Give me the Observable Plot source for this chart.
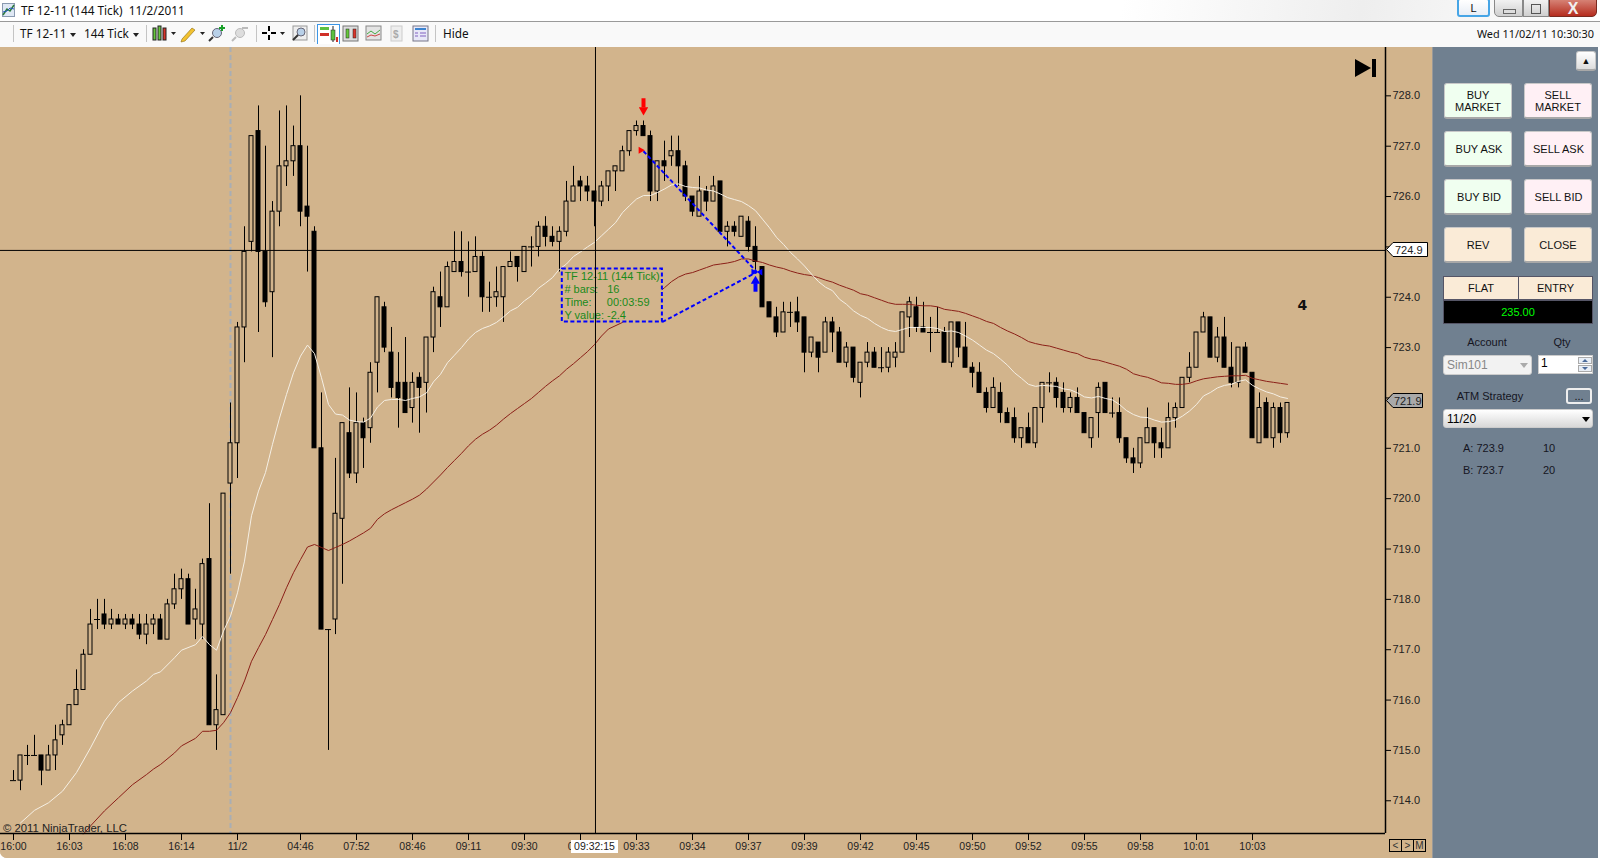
<!DOCTYPE html>
<html><head><meta charset="utf-8">
<script src="https://cdn.jsdelivr.net/npm/d3@7"></script>
<script src="https://cdn.jsdelivr.net/npm/@observablehq/plot@0.6"></script>
<style>
html,body{margin:0;padding:0;background:#fff;width:1600px;height:860px;overflow:hidden;font-family:"Liberation Sans",Arial,sans-serif;color:#111}
.a{position:absolute;white-space:pre}
.btn{position:absolute;box-sizing:border-box;border:1px solid #c8c8c8;border-bottom:2px solid #a8a8a8;border-radius:3px;font-size:11px;line-height:12px;text-align:center;display:flex;align-items:center;justify-content:center;color:#111}
.lbl{position:absolute;font-size:11px;color:#15151f;white-space:pre;transform:translate(-50%,-50%)}
.sep{position:absolute;top:25px;height:17px;width:1px;background:#c4c4c4}
.tb{position:absolute;font:11.8px "Noto Sans",sans-serif;color:#111;white-space:pre}
#chart{position:absolute;left:0;top:47px;width:1433px;height:811px;background:#d2b48c;border-bottom-left-radius:7px;overflow:hidden}
#chart svg{display:block}
</style></head><body>
<div class="a" style="left:0;top:0;width:1600px;height:21px;background:linear-gradient(100deg,#fff 70%,#eee 85%,#fff)"></div>
<div class="a" style="left:0;top:21px;width:1600px;height:26px;background:#f9f9f9;border-top:1px solid #9a9a9a;box-sizing:border-box"></div>
<svg class="a" style="left:2px;top:3px" width="13" height="14"><rect x=".5" y=".5" width="12" height="13" fill="#dfe8f4" stroke="#8a9ab0"/><path d="M1 12 5 6 8 8 12 2" fill="none" stroke="#2c7a3c" stroke-width="1.5"/><path d="M1 9 5 8 8 5 12 6" fill="none" stroke="#2358b8"/></svg>
<div class="tb" style="left:21px;top:2px">TF 12-11 (144 Tick)  11/2/2011</div>
<div class="btn" style="left:1457px;top:-2px;width:33px;height:19px;background:linear-gradient(#fff,#e8eef6);border:2px solid #46a5e6">L</div>
<div class="a" style="left:1494px;top:-2px;width:29px;height:19px;box-sizing:border-box;background:linear-gradient(#f4f4f4,#cfcfcf);border:1px solid #888;border-radius:0 0 0 5px"></div>
<div class="a" style="left:1503px;top:9px;width:11px;height:3px;border:1px solid #666;background:#ddd"></div>
<div class="a" style="left:1523px;top:-2px;width:26px;height:19px;box-sizing:border-box;background:linear-gradient(#f4f4f4,#cfcfcf);border:1px solid #888"></div>
<div class="a" style="left:1531px;top:4px;width:8px;height:8px;border:1px solid #555"></div>
<div class="a" style="left:1549px;top:-2px;width:48px;height:19px;box-sizing:border-box;background:linear-gradient(#d8877a,#b52c1e);border:1px solid #7a2a20;border-radius:0 0 5px 0;color:#f0f0f0;font:bold 16px 'Liberation Sans';text-align:center;line-height:19px">X</div>

<div class="sep" style="left:13px"></div><div class="sep" style="left:146px"></div><div class="sep" style="left:256px"></div><div class="sep" style="left:314px"></div><div class="sep" style="left:435px"></div>
<div class="tb" style="left:20px;top:25px">TF 12-11</div><div class="a" style="left:70px;top:33px;border:3px solid transparent;border-top:4px solid #222"></div>
<div class="tb" style="left:84px;top:25px">144 Tick</div><div class="a" style="left:133px;top:33px;border:3px solid transparent;border-top:4px solid #222"></div>
<div class="tb" style="left:443px;top:25px">Hide</div>
<svg class="a" style="left:150px;top:24px" width="290" height="20">
<g stroke="#222"><rect x="3" y="4" width="3" height="12" fill="#66c83c"/><rect x="8" y="2" width="3" height="14" fill="#66c83c"/><rect x="13" y="4" width="3" height="12" fill="#d8352a"/></g><path d="M21 8h5l-2.5 3z" fill="#222"/>
<path d="M32 15 42 4l3 2-10 11-4 1z" fill="#f2c230" stroke="#8a6a10" stroke-width=".6"/><path d="M50 8h5l-2.5 3z" fill="#222"/>
<circle cx="67" cy="9" r="4.5" fill="#b8d0e8" stroke="#667"/><path d="M63 13l-4 4" stroke="#333" stroke-width="2"/><path d="M72 1v6M69 4h6" stroke="#18a028" stroke-width="2"/>
<circle cx="90" cy="9" r="4.5" fill="#ddd" stroke="#bbb"/><path d="M86 13l-4 4" stroke="#bbb" stroke-width="2"/><path d="M92 4h6" stroke="#bbb" stroke-width="2"/>
<path d="M112 9h5M121 9h5M119 2v5M119 11v5" stroke="#000" stroke-width="2"/><path d="M130 8h5l-2.5 3z" fill="#222"/>
<rect x="143" y="2" width="14" height="14" fill="#eee" stroke="#999"/><circle cx="151" cy="8" r="4" fill="#b8d0e8" stroke="#667"/><path d="M148 11l-5 5" stroke="#333" stroke-width="2"/>
<rect x="167.500" y="1.500" width="22" height="21" fill="#fff" stroke="#3c96e6" transform="translate(0,-1)"/><rect x="170" y="3" width="9" height="3" fill="#5cc040"/><rect x="170" y="9" width="9" height="3" fill="#d03028"/><path d="M183 2v16" stroke="#222"/><rect x="181" y="6" width="4" height="10" fill="#5cc040" stroke="#222" stroke-width=".5"/><rect x="186" y="13" width="2" height="5" fill="#d03028"/>
<rect x="193" y="2" width="15" height="15" fill="#ddd" stroke="#777"/><rect x="196" y="5" width="3" height="9" fill="#66c83c" stroke="#222" stroke-width=".5"/><rect x="203" y="5" width="3" height="9" fill="#d8352a" stroke="#222" stroke-width=".5"/>
<rect x="216" y="2" width="15" height="14" fill="#e4e4e4" stroke="#888"/><path d="M217 10l4-3 4 3 5-4" stroke="#4a4" fill="none"/><path d="M217 13l4-2 4 1 5-2" stroke="#c44" fill="none"/>
<rect x="241" y="2" width="11" height="15" fill="#eee" stroke="#ccc"/><text x="243" y="14" font-size="10" fill="#aaa" font-weight="bold">$</text>
<rect x="263" y="2" width="15" height="15" fill="#e8e8f8" stroke="#778"/><rect x="265" y="4" width="11" height="2" fill="#3c84d0"/><path d="M265 9h3M265 12h3M270 9h6M270 12h6" stroke="#8060c0"/>
</svg>
<div class="tb" style="right:6px;top:26px;left:auto;font-size:10.9px">Wed 11/02/11 10:30:30</div>

<div id="chart"></div>

<svg class="a" style="left:1354px;top:58px" width="24" height="21"><path d="M1 1 17 10 1 19z" fill="#000"/><rect x="18" y="1" width="4" height="18" fill="#000"/></svg>

<svg class="a" style="left:1385px;top:242px" width="44" height="16"><path d="M1.500 7.500 8 .5H42.500V14.500H8z" fill="#fff" stroke="#000"/><text x="10" y="11.500" font-size="11" fill="#222" font-family="Liberation Sans">724.9</text></svg>
<svg class="a" style="left:1385px;top:393px" width="40" height="16"><path d="M1.500 7.500 8 .5H37.500V14.500H8z" fill="#a9a9a9" stroke="#000"/><text x="9" y="11.500" font-size="11" fill="#222" font-family="Liberation Sans">721.9</text></svg>
<div class="a" style="left:571px;top:840px;width:47px;height:13px;background:#fff;font-size:10.5px;line-height:13px;text-align:center;color:#222">09:32:15</div>
<svg class="a" style="left:1389px;top:839px" width="38" height="14"><g fill="none" stroke="#000"><rect x=".5" y=".5" width="12" height="12"/><rect x="12.500" y=".5" width="12" height="12"/><rect x="24.500" y=".5" width="12" height="12"/></g><g font-size="10" fill="#333" font-family="Liberation Sans" text-anchor="middle"><text x="6.500" y="10">&lt;</text><text x="18.500" y="10">&gt;</text><text x="30.500" y="10">M</text></g></svg>

<div class="a" style="left:1432px;top:47px;width:166px;height:811px;background:#708090;border-left:1px solid #999;box-sizing:border-box"></div>
<div class="btn" style="left:1576px;top:51px;width:20px;height:20px;background:linear-gradient(#fff,#ddd);font-size:9px">▲</div>
<div class="btn" style="left:1444px;top:83px;width:68px;height:36px;background:#f0fff0">BUY<br>MARKET</div>
<div class="btn" style="left:1524px;top:83px;width:68px;height:36px;background:#fff0f5">SELL<br>MARKET</div>
<div class="btn" style="left:1444px;top:131px;width:68px;height:36px;background:#f0fff0;padding-left:2px">BUY ASK</div>
<div class="btn" style="left:1524px;top:131px;width:68px;height:36px;background:#fff0f5;padding-left:1px">SELL ASK</div>
<div class="btn" style="left:1444px;top:179px;width:68px;height:36px;background:#f0fff0;padding-left:2px">BUY BID</div>
<div class="btn" style="left:1524px;top:179px;width:68px;height:36px;background:#fff0f5;padding-left:1px">SELL BID</div>
<div class="btn" style="left:1444px;top:227px;width:68px;height:36px;background:#faebd7">REV</div>
<div class="btn" style="left:1524px;top:227px;width:68px;height:36px;background:#faebd7">CLOSE</div>
<div class="btn" style="left:1443px;top:276px;width:76px;height:24px;background:#faebd7;border:1px solid #556;border-radius:0">FLAT</div>
<div class="btn" style="left:1518px;top:276px;width:75px;height:24px;background:#faebd7;border:1px solid #556;border-radius:0">ENTRY</div>
<div class="btn" style="left:1443px;top:300px;width:150px;height:24px;background:#000;border:1px solid #556;border-radius:0;color:#00ff00">235.00</div>
<div class="lbl" style="left:1487px;top:342px">Account</div>
<div class="lbl" style="left:1562px;top:342px">Qty</div>
<div class="a" style="left:1443px;top:355px;width:89px;height:20px;box-sizing:border-box;background:#f2f2f2;border:1px solid #ccc;border-radius:3px;color:#888;font-size:12px;line-height:18px;padding-left:3px">Sim101</div>
<div class="a" style="left:1520px;top:363px;border:4px solid transparent;border-top:5px solid #aaa"></div>
<div class="a" style="left:1538px;top:355px;width:55px;height:19px;box-sizing:border-box;background:#fff;border:1px solid #ccc;font-size:12px;line-height:15px;padding-left:2px;color:#000">1</div>
<div class="a" style="left:1578px;top:357px;width:14px;height:7px;background:#e8eef6;border:1px solid #aaa;box-sizing:border-box"></div>
<div class="a" style="left:1578px;top:365px;width:14px;height:7px;background:#e8eef6;border:1px solid #aaa;box-sizing:border-box"></div>
<svg class="a" style="left:1578px;top:357px" width="14" height="15"><path d="M4 5 7 2 10 5z M4 10 7 13 10 10z" fill="#4a6a9a"/></svg>
<div class="lbl" style="left:1490px;top:396px">ATM Strategy</div>
<div class="btn" style="left:1566px;top:388px;width:26px;height:16px;background:#708090;border:2px solid #eee;align-items:flex-start">...</div>
<div class="a" style="left:1443px;top:409px;width:150px;height:19px;box-sizing:border-box;background:linear-gradient(#fff,#d8d8d8);border:1px solid #ccc;border-radius:3px;font-size:12px;line-height:18px;padding-left:3px;color:#000">11/20</div>
<div class="a" style="left:1582px;top:417px;border:4px solid transparent;border-top:5px solid #000"></div>
<div class="a" style="left:1463px;top:442px;font-size:11px;color:#15151f">A: 723.9</div><div class="a" style="left:1543px;top:442px;font-size:11px;color:#15151f">10</div>
<div class="a" style="left:1463px;top:464px;font-size:11px;color:#15151f">B: 723.7</div><div class="a" style="left:1543px;top:464px;font-size:11px;color:#15151f">20</div>

<script>
// Bar-by-bar prices (144-tick bars)
const opens=[714.4,714.4,714.9,714.9,714.9,714.6,714.9,715.3,715.5,715.9,716.2,716.9,717.6,717.7,717.5,717.6,717.5,717.6,717.5,717.3,717.5,717.6,717.2,717.9,718.2,718.4,717.6,717.5,718.8,715.5,715.7,720.3,721.1,723.4,725.1,727.3,724.9,724.1,725.7,726.6,726.7,727,725.8,725.3,721,717.4,717.6,719.6,721.3,720.5,721.5,721.4,722.7,723.8,722.9,722.3,722.3,721.8,722.4,722.3,723.2,724,723.8,724.5,724.7,724.5,724.5,724.8,724,724,724,724.6,724.8,724.5,725,725,725.4,725.2,725.1,725.3,725.9,726.3,726.2,726.1,725.9,726.2,726.5,726.5,726.9,727.3,727.4,727.2,726.1,726.7,726.8,726.9,726.6,726,725.6,726.1,725.9,726.3,725.3,725.4,725.2,725.5,725,724.6,723.9,723.6,723.3,723.7,723.7,723.6,722.9,723.1,722.9,723.5,723.3,722.7,723,722.3,722.7,722.9,722.6,722.6,722.8,722.9,723.6,723.8,723.4,723.3,723.3,723.3,722.7,723.5,723,722.6,722.5,722.1,721.8,722.1,721.7,721.6,721.2,721.4,721.1,721.8,722.3,722.3,722.1,721.8,722,721.7,721.2,721.7,722.3,721.7,721.7,721.2,720.8,720.7,721.1,721.4,721.1,721,721.6,721.8,722.4,722.6,723.3,723.6,722.8,723.2,722.6,722.3,723,722.5,721.1,721.9,721.2,721.8,721.3];
const closes=[714.4,714.9,714.9,714.9,714.6,714.9,715.2,715.5,715.9,716.2,716.9,717.5,717.6,717.5,717.6,717.5,717.6,717.5,717.3,717.5,717.6,717.2,717.9,718.2,718.4,717.5,717.8,718.7,715.5,715.8,720.1,721.1,723.4,724.9,727.2,724.9,723.9,725.7,726.6,726.7,727,725.7,725.6,721,717.4,717.4,719.7,721.5,720.5,721.5,721.2,722.5,724,723,722.2,722,721.7,722.3,722.2,723.2,724.1,723.8,724.6,724.7,724.5,724.5,724.8,724,724,724.1,724.6,724.7,724.6,725,725,725.4,725.2,725.1,725.3,725.9,726.2,726.2,726.1,725.9,726.2,726.5,726.6,726.9,727.3,727.4,727.2,726.1,726.7,726.6,726.9,726.6,726,725.7,726.1,725.9,726.2,725.3,725.4,725.3,725.6,725,724.7,723.8,723.6,723.3,723.7,723.7,723.5,722.9,723.2,722.8,723.5,723.3,722.7,723,722.4,722.7,722.9,722.6,722.6,722.9,722.9,723.7,723.9,723.4,723.3,723.3,723.3,722.7,723.5,723,722.6,722.5,722.1,721.8,722.2,721.7,721.5,721.2,721.4,721.1,721.8,722.3,722.3,722,721.8,722,721.7,721.3,721.6,722.2,721.7,721.7,721.2,720.8,720.7,721.2,721.4,721.1,721,721.6,721.8,722.4,722.6,723.3,723.6,722.8,723.2,722.6,722.3,723,722.5,721.2,721.8,721.2,721.8,721.3,721.9];
const highs=[714.6,714.9,715.1,715.3,714.9,715.1,715.5,715.6,715.9,716.6,717,717.8,718,718,717.8,717.7,717.7,717.7,717.7,717.7,717.7,717.7,718,718.5,718.6,718.5,718.2,718.8,719.9,716.5,720.1,721.9,723.5,725.4,727.2,727.8,727,725.9,727.7,727.8,727.4,728,727,725.4,722.1,717.4,720.8,721.5,722.2,722.1,721.6,722.7,724,723.9,723.4,722.9,723.2,722.5,722.5,723.2,724.2,724.5,724.7,725.3,725.3,725.1,725.2,724.9,724.3,724.6,724.6,724.9,724.8,725,725.2,725.5,725.6,725.4,725.4,726.3,726.6,726.4,726.4,726.1,726.3,726.5,726.6,727,727.3,727.5,727.5,727.3,726.7,727.1,727.2,727.2,726.7,726,726.4,726.2,726.4,726.3,725.5,725.5,725.6,725.6,725.4,724.6,723.9,723.8,723.9,723.9,724,723.6,723.2,723.1,723.6,723.6,723.4,723.1,723,722.7,723.1,723,723,723,723.1,723.7,724,724,723.9,723.6,723.8,723.4,723.5,723.5,723.5,722.7,722.7,722.2,722.4,722.3,721.8,721.8,721.4,721.7,721.8,722.3,722.5,722.4,722.3,722.1,722.2,721.7,721.6,722.3,722.3,722,722,721.2,721,721.2,721.8,721.4,721.4,721.9,721.9,722.4,722.9,723.3,723.7,723.6,723.4,723.6,723.1,723,723.1,722.5,722.1,722,721.9,721.9,721.9];
const lows=[714.4,714.2,714.7,714.9,714.3,714.6,714.6,715.1,715.5,715.9,716.2,716.9,717.4,717.4,717.4,717.5,717.4,717.4,717.2,717.1,717.3,717.2,717.2,717.8,718,717.5,717.2,717.2,715.5,715,715.7,718.5,720.4,722.7,724.9,723.3,723.8,722.8,725.4,726.2,726.4,725.4,724.5,721,717.4,715,717.3,718.3,720.4,720.3,720.6,721.1,722.1,722.9,722,721.4,721.7,721.5,721.3,721.7,722.9,723.4,723.8,724.5,724.4,724,724.5,723.7,723.7,723.8,723.5,724.6,724.3,724.5,724.6,724.8,725,725,724.5,725.2,725.9,725.9,725.9,725.4,725.8,725.9,726.1,726.5,726.8,727.2,727.2,725.9,725.9,726.3,726.6,726.2,725.9,725.6,725.6,725.7,725.9,725.3,725,725.2,725.2,724.9,724.5,723.8,723.6,723.2,723.3,723.4,723.3,722.5,722.8,722.5,722.9,722.9,722.7,722.6,722.3,722,722.6,722.6,722.5,722.5,722.6,722.9,723.2,723.3,723.3,722.9,723.3,722.7,722.6,722.8,722.6,722.2,722.1,721.7,721.8,721.5,721.5,721.1,721,721.1,721,721.5,722.1,721.8,721.7,721.7,721.7,721.3,721,721.2,721.7,721.6,721.1,720.7,720.5,720.6,721.1,720.8,720.8,721,721.4,721.8,722.3,722.6,723.3,722.8,722.7,722.6,722.2,722.2,722.5,721.2,721.1,721.2,721,721.1,721.2];

// Fast average (pale line): bar numbers and values
const fastBars=[1,3,5,7,9,11,13,15,17,19,20,21,23,24,26,27,28,29,30,31,32,33,34,35,36,37,38,39,40,41,42,43,44,45,46,47,48,49,50,51,52,53,54,55,56,57,58,59,60,61,62,63,64,65,66,67,68,69,70,71,72,73,74,75,76,77,78,79,80,81,82,83,84,85,86,87,88,89,90,91,92,93,94,95,96,97,98,99,100,101,102,103,104,105,106,107,108,109,110,111,112,113,114,115,116,117,118,119,120,121,122,123,124,125,126,127,128,129,130,131,132,133,134,135,136,137,138,139,140,141,142,143,144,145,146,147,148,149,150,151,152,153,154,155,156,157,158,159,160,161,162,163,164,165,166,167,168,169,170,171,172,173,174,175,176,177,178,179,180,181,182];
const fastVals=[713.56,713.81,713.96,714.19,714.56,715.05,715.58,715.95,716.18,716.38,716.51,716.56,716.84,716.99,717.1,717.26,717.1,716.99,717.37,717.67,718.13,718.76,719.66,720.15,720.52,721.08,721.6,722.07,722.5,722.83,723.05,722.88,722.4,721.87,721.68,721.66,721.56,721.53,721.52,721.6,721.82,721.95,721.97,721.97,721.95,721.99,722.02,722.1,722.32,722.47,722.7,722.85,723,723.17,723.3,723.38,723.43,723.5,723.61,723.73,723.8,723.93,724.03,724.18,724.28,724.39,724.56,724.66,724.81,724.9,725,725.09,725.22,725.35,725.48,725.68,725.82,725.95,726.02,726.02,726.08,726.15,726.23,726.25,726.2,726.18,726.17,726.13,726.11,726.05,725.98,725.94,725.9,725.82,725.72,725.55,725.38,725.19,725.05,724.89,724.76,724.62,724.46,724.31,724.2,724.13,723.96,723.86,723.73,723.64,723.58,723.48,723.4,723.34,723.32,723.36,723.4,723.4,723.4,723.4,723.38,723.32,723.33,723.3,723.23,723.15,723.05,722.95,722.88,722.77,722.65,722.5,722.39,722.27,722.23,722.25,722.24,722.23,722.18,722.16,722.1,722.02,722,722.03,721.99,721.96,721.87,721.75,721.67,721.62,721.61,721.56,721.52,721.53,721.56,721.64,721.74,721.87,722.04,722.11,722.2,722.25,722.27,722.33,722.36,722.25,722.18,722.12,722.08,722.02,721.99];

// Slow average (dark red line); the stretch hidden behind the measure box is not read
const slowBars=[10,11,13,15,17,19,20,21,23,24,26,27,28,29,30,31,32,33,34,35,36,37,38,39,40,41,42,43,44,45,46,47,48,49,50,51,52,53,54,55,56,57,58,59,60,61,62,63,64,65,66,67,68,69,70,71,72,73,74,75,76,77,78,79,80,81,82,83,84,85,87,93,94,95,96,97,98,99,100,101,102,103,104,105,106,107,108,109,110,111,112,113,114,115,116,117,118,119,120,121,122,123,124,125,126,127,128,129,130,131,132,133,134,135,136,137,138,139,140,141,142,143,144,145,146,147,148,149,150,151,152,153,154,155,156,157,158,159,160,161,162,163,164,165,166,167,168,169,170,171,172,173,174,175,176,177,178,179,180,181,182];
const slowVals=[713.34,713.5,713.8,714.06,714.32,714.52,714.63,714.72,714.95,715.09,715.24,715.38,715.38,715.4,715.55,715.75,716.05,716.38,716.77,717.04,717.3,717.6,717.9,718.23,718.53,718.79,719.04,719.09,719.03,718.97,719.03,719.09,719.16,719.24,719.32,719.41,719.59,719.7,719.78,719.85,719.92,719.99,720.07,720.19,720.33,720.47,720.62,720.76,720.9,721.05,721.18,721.28,721.36,721.46,721.58,721.69,721.79,721.89,721.99,722.11,722.23,722.34,722.44,722.57,722.68,722.8,722.92,723.06,723.23,723.37,723.5,724.19,724.31,724.4,724.46,724.49,724.54,724.59,724.64,724.66,724.68,724.71,724.76,724.76,724.72,724.69,724.64,724.6,724.57,724.52,724.48,724.45,724.43,724.39,724.34,724.3,724.24,724.19,724.14,724.07,724.04,723.99,723.94,723.89,723.86,723.86,723.86,723.84,723.83,723.83,723.81,723.76,723.74,723.72,723.68,723.63,723.58,723.52,723.48,723.4,723.33,723.27,723.2,723.12,723.08,723.05,723.03,722.99,722.95,722.91,722.88,722.81,722.77,722.75,722.71,722.67,722.63,722.57,722.48,722.44,722.41,722.36,722.3,722.29,722.27,722.27,722.29,722.34,722.38,722.4,722.42,722.43,722.44,722.44,722.45,722.39,722.36,722.33,722.31,722.29,722.27];

const tickBars=[0,8,16,24,32,41,49,57,65,73,81,89,97,105,113,121,129,137,145,153,161,169,177];
// The label of bar 81 lies under the crosshair's time tag; only its first digit shows
const tickLabels=["16:00","16:03","16:08","16:14","11/2","04:46","07:52","08:46","09:11","09:30","","09:33","09:34","09:37","09:39","09:42","09:45","09:50","09:52","09:55","09:58","10:01","10:03"];
const priceTicks=[714,715,716,717,718,719,720,721,722,723,724,725,726,727,728];
const coveredPrices=[722,725]; // labels under the last-price and crosshair tags
const measureLines=["TF 12-11 (144 Tick)","# bars:   16","Time:     00:03:59","Y value: -2.4"];
const crossBar=83.14, crossPrice=724.93, sessionBar=31, axisBar=196, priceMin=713.35, priceMax=728.96;

const bars=opens.map((o,i)=>({i,o,c:closes[i],h:highs[i],l:lows[i]}));
const fast=fastBars.map((i,k)=>({i,v:fastVals[k]}));
const slow=slowBars.map((i,k)=>({i,v:slowVals[k]}));
const tan="#d2b48c", half=2/7, dojiHalf=3/7;
const boxTop=724.56, boxBottom=723.51, boxLeft=78.4, boxRight=92.7;
const measureLinks=[
  {x1:90,y1:726.9,x2:106.2,y2:724.5},
  {x1:boxRight,y1:boxBottom,x2:106.2,y2:724.5}
];
const lineStep=0.262;
const dash="4,2.5";

const plot=Plot.plot({
  width:1433,height:811,marginLeft:0,marginRight:48,marginTop:0,marginBottom:25,
  style:{background:tan,fontFamily:"'Liberation Sans',Arial,sans-serif",color:"#222",overflow:"hidden"},
  x:{domain:[-13/7,axisBar]},
  y:{domain:[priceMin,priceMax]},
  marks:[
    Plot.ruleX([sessionBar],{stroke:"#a9aeb4",strokeWidth:2,strokeDasharray:"5,3"}),
    Plot.ruleX(bars,{x:"i",y1:"l",y2:"h",stroke:"#000",strokeWidth:1}),
    Plot.rect(bars.filter(d=>d.o!==d.c),{x1:d=>d.i-half,x2:d=>d.i+half,y1:"o",y2:"c",fill:d=>d.c>d.o?tan:"#000",stroke:"#000",strokeWidth:1}),
    Plot.ruleY(bars.filter(d=>d.o===d.c),{y:"o",x1:d=>d.i-dojiHalf,x2:d=>d.i+dojiHalf,stroke:"#000",strokeWidth:1}),
    Plot.line(slow,{x:"i",y:"v",stroke:"#8b2018",strokeWidth:1,curve:"linear"}),
    Plot.line(fast,{x:"i",y:"v",stroke:"#f5efe4",strokeWidth:1,curve:"linear"}),
    Plot.rect([0],{x1:boxLeft,x2:boxRight,y1:boxBottom,y2:boxTop,fill:tan,stroke:"#0000ff",strokeWidth:2,strokeDasharray:dash}),
    Plot.link(measureLinks,{x1:"x1",y1:"y1",x2:"x2",y2:"y2",stroke:"#0000ff",strokeWidth:2,strokeDasharray:dash}),
    Plot.text(measureLines,{x:boxLeft+0.3,y:(d,k)=>boxTop-0.14-k*lineStep,text:d=>d,textAnchor:"start",fill:"#1a8a1a",fontSize:11}),
    Plot.ruleX([crossBar],{stroke:"#000",strokeWidth:1}),
    Plot.ruleY([crossPrice],{stroke:"#000",strokeWidth:1}),
    // signal arrows
    Plot.ruleX([90],{y1:727.76,y2:727.94,stroke:"#ff0000",strokeWidth:4}),
    Plot.dot([{i:90,v:727.72}],{x:"i",y:"v",symbol:"triangle2",r:4.5,rotate:180,fill:"#ff0000"}),
    Plot.dot([{i:89.6,v:726.92}],{x:"i",y:"v",symbol:"triangle2",r:3.4,rotate:90,fill:"#ff0000"}),
    Plot.ruleX([106],{y1:724.1,y2:724.27,stroke:"#0000ff",strokeWidth:4}),
    Plot.dot([{i:106,v:724.32}],{x:"i",y:"v",symbol:"triangle2",r:4.5,fill:"#0000ff"}),
    Plot.dot([{i:105.7,v:724.5}],{x:"i",y:"v",symbol:"triangle2",r:3.2,rotate:90,fill:"#0000ff"}),
    Plot.dot([{i:106.7,v:724.5}],{x:"i",y:"v",symbol:"triangle2",r:3.2,rotate:-90,fill:"#0000ff"}),
    Plot.text(["4"],{x:184.14,y:723.83,text:d=>d,fontWeight:"bold",fontSize:14,fill:"#111",fontFamily:"'DejaVu Sans'"}),
    Plot.text(["© 2011 NinjaTrader, LLC"],{x:-1.5,y:713.46,text:d=>d,textAnchor:"start",fontSize:11.3,fill:"#222"}),
    Plot.axisY({anchor:"right",ticks:priceTicks,tickSize:5,tickPadding:2,tickFormat:d=>coveredPrices.includes(d)?"":d.toFixed(1),label:null,fontSize:11,stroke:"#000"}),
    Plot.axisX({ticks:tickBars,tickFormat:d=>tickLabels[tickBars.indexOf(d)],tickSize:7,tickPadding:2,label:null,fontSize:10.5,stroke:"#000"}),
    Plot.text(["0"],{x:79.6,y:priceMin,dy:13.5,text:d=>d,fontSize:10.5,fill:"#222",clip:false}),
    Plot.ruleX([axisBar],{stroke:"#000",strokeWidth:1.5}),
    Plot.ruleY([priceMin],{stroke:"#000",strokeWidth:1.5,x1:-13/7,x2:axisBar})
  ]
});
document.getElementById("chart").appendChild(plot);
</script>
</body></html>
